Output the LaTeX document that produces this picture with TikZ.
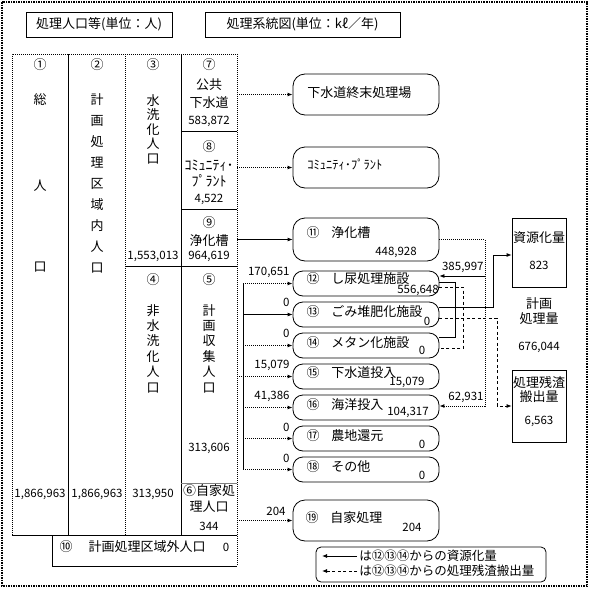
\documentclass[tikz,border=0pt]{standalone}
\usepackage{fontspec}
\setmainfont{Noto Sans CJK JP}
\usetikzlibrary{arrows.meta,calc}
\begin{document}
\begin{tikzpicture}[x=1pt,y=-1pt,line width=0.8pt,
  tx/.style={inner sep=0pt,font=\fontsize{13}{15}\selectfont},
  nm/.style={inner sep=0pt,font=\fontsize{11.5}{13}\selectfont},
  rbox/.style={draw,rounded corners=12pt,minimum width=146pt,minimum height=41pt,inner sep=0pt},
  sbox/.style={draw,rounded corners=10pt,minimum width=146pt,minimum height=25pt,inner sep=0pt},
  sqbox/.style={draw,minimum width=54pt,inner sep=0pt},
  arr/.style={-{Latex[length=5pt,width=4pt]}},
  dl/.style={densely dotted,line width=1pt},
  dsh/.style={dash pattern=on 3pt off 2.5pt}]
\useasboundingbox (0,0) rectangle (589,589);
% outer frame
\draw[densely dotted,line width=1.5pt] (2,2) rectangle (587,586);
% headers
\node[draw,minimum width=146pt,minimum height=25pt,inner sep=0pt,font=\fontsize{13}{15}\selectfont] (h1) at (99,24.5) {処理人口等(単位：人)};
\node[draw,minimum width=195pt,minimum height=25pt,inner sep=0pt,font=\fontsize{13}{15}\selectfont] (h2) at (302.5,24.5) {処理系統図(単位：kℓ／年)};
% table
\draw[dl] (12,535) -- (12,54) -- (237,54) -- (237,566);
\draw (68,54) -- (68,535);
\draw[dl] (125,54) -- (125,535);
\draw (181,54) -- (181,535);
\draw (181,131) -- (237,131);
\draw (181,209) -- (237,209);
\draw (125,266) -- (237,266);
\draw[gray] (181,483) -- (237,483);
\draw (12,535) -- (237,535);
\draw (52,535) -- (52,566) -- (237,566);
% column 1
\node[tx] (c1n) at (40,65) {①};
\node[tx] (c1a) at (40,100) {総};
\node[tx] (c1b) at (40,186) {人};
\node[tx] (c1c) at (40,267) {口};
\node[nm] (c1v) at (40,494) {1,866,963};
% column 2
\node[tx] (c2n) at (97,65) {②};
\node[tx,align=center,font=\fontsize{13}{20.9}\selectfont] (c2t) at (97,183.5) {計\\画\\処\\理\\区\\域\\内\\人\\口};
\node[nm] (c2v) at (97,494) {1,866,963};
% column 3
\node[tx] (c3n) at (153,65) {③};
\node[tx,align=center,font=\fontsize{13}{14.5}\selectfont] (c3t) at (153,129) {水\\洗\\化\\人\\口};
\node[nm] (c3v) at (153,256) {1,553,013};
\node[tx] (c4n) at (153,280) {④};
\node[tx,align=center,font=\fontsize{13}{15.4}\selectfont] (c4t) at (153,348.5) {非\\水\\洗\\化\\人\\口};
\node[nm] (c4v) at (153,494) {313,950};
% column 4
\node[tx] (c7n) at (209,65) {⑦};
\node[tx] (c7a) at (209,85) {公共};
\node[tx] (c7b) at (209,103) {下水道};
\node[nm] (c7v) at (209,121) {583,872};
\node[tx] (c8n) at (209,147) {⑧};
\node[tx,font=\fontsize{14}{15}\selectfont] (c8a) at (209,166) {ｺﾐｭﾆﾃｨ･};
\node[tx,font=\fontsize{14}{15}\selectfont] (c8b) at (209,181) {ﾌﾟﾗﾝﾄ};
\node[nm] (c8v) at (209,199) {4,522};
\node[tx] (c9n) at (209,223) {⑨};
\node[tx] (c9a) at (209,241) {浄化槽};
\node[nm] (c9v) at (209,256) {964,619};
\node[tx] (c5n) at (209,280) {⑤};
\node[tx,align=center,font=\fontsize{13}{15.4}\selectfont] (c5t) at (209,348.5) {計\\画\\収\\集\\人\\口};
\node[nm] (c5v) at (209,448) {313,606};
\node[tx] (c6a) at (209,491) {⑥自家処};
\node[tx] (c6b) at (209,507) {理人口};
\node[nm] (c6v) at (209,526) {344};
% row 10
\node[tx] (c10n) at (66,547) {⑩};
\node[tx] (c10t) at (147,547) {計画処理区域外人口};
\node[nm] (c10v) at (226,547) {0};
% destination boxes
\node[rbox] (b7) at (366,94.5) {};
\node[tx,anchor=west] (b7t) at (307,93) {下水道終末処理場};
\node[rbox] (b8) at (366,167.5) {};
\node[tx,anchor=west,font=\fontsize{12.5}{14}\selectfont] (b8t) at (307,165) {ｺﾐｭﾆﾃｨ･ﾌﾟﾗﾝﾄ};
\node[rbox,minimum height=43pt] (b11) at (366,239.5) {};
\node[tx] (b11n) at (313,233) {⑪};
\node[tx,anchor=west] (b11t) at (331,233) {浄化槽};
\node[nm] (b11v) at (396,252) {448,928};
\node[sbox] (b12) at (366,283.5) {};
\node[tx] (b12n) at (313,279) {⑫};
\node[tx,anchor=west] (b12t) at (331,279) {し尿処理施設};
\node[nm] (b12v) at (418,290.5) {556,648};
\node[sbox] (b13) at (366,314.5) {};
\node[tx] (b13n) at (313,312) {⑬};
\node[tx,anchor=west] (b13t) at (331,312) {ごみ堆肥化施設};
\node[nm] (b13v) at (427,321.5) {0};
\node[sbox] (b14) at (366,345.5) {};
\node[tx] (b14n) at (313,343) {⑭};
\node[tx,anchor=west] (b14t) at (331,343) {メタン化施設};
\node[nm] (b14v) at (422,350) {0};
\node[sbox] (b15) at (366,376.5) {};
\node[tx] (b15n) at (313,373) {⑮};
\node[tx,anchor=west] (b15t) at (331,373) {下水道投入};
\node[nm] (b15v) at (407,382) {15,079};
\node[sbox] (b16) at (366,407.5) {};
\node[tx] (b16n) at (313,405) {⑯};
\node[tx,anchor=west] (b16t) at (331,405) {海洋投入};
\node[nm] (b16v) at (408,412) {104,317};
\node[sbox] (b17) at (366,438.5) {};
\node[tx] (b17n) at (313,436) {⑰};
\node[tx,anchor=west] (b17t) at (331,436) {農地還元};
\node[nm] (b17v) at (422,444) {0};
\node[sbox] (b18) at (366,469.5) {};
\node[tx] (b18n) at (313,467) {⑱};
\node[tx,anchor=west] (b18t) at (331,467) {その他};
\node[nm] (b18v) at (422,475) {0};
\node[rbox] (b19) at (366,520.5) {};
\node[tx] (b19n) at (312,518) {⑲};
\node[tx,anchor=west] (b19t) at (330,518) {自家処理};
\node[nm] (b19v) at (412,527) {204};
% right boxes
\node[sqbox,minimum height=69pt] (rs) at (539,252.5) {};
\node[tx] (rst) at (539,238) {資源化量};
\node[nm] (rsv) at (539,265) {823};
\node[tx] (pa) at (539,304) {計画};
\node[tx] (pb) at (539,319) {処理量};
\node[nm] (pv) at (539,347) {676,044};
\node[sqbox,minimum height=72pt] (rd) at (539,406) {};
\node[tx] (rda) at (539,382) {処理残渣};
\node[tx] (rdb) at (539,397) {搬出量};
\node[nm] (rdv) at (539,421) {6,563};
% legend
\node[draw,rounded corners=5pt,minimum width=230pt,minimum height=35pt,inner sep=0pt] (lg) at (431,564.5) {};
\coordinate (la1) at (357,556);
\coordinate (la1e) at (322,556);
\coordinate (la2) at (357,571);
\coordinate (la2e) at (322,571);
\draw[arr] (la1) -- (la1e);
\draw[arr,dsh] (la2) -- (la2e);
\node[tx,anchor=west,font=\fontsize{12.5}{14}\selectfont] (lt1) at (359,556) {は⑫⑬⑭からの資源化量};
\node[tx,anchor=west,font=\fontsize{12.5}{14}\selectfont] (lt2) at (359,571) {は⑫⑬⑭からの処理残渣搬出量};
% connectors from table
\coordinate (t7) at (237,94.5);
\coordinate (t8) at (237,167.5);
\coordinate (t9) at (237,239.5);
\coordinate (t5) at (237,376.5);
\coordinate (t6) at (237,520.5);
\coordinate (bus1) at (243,283.5);
\coordinate (bus2) at (243,469.5);
\draw[arr,dl] (t7) -- (b7.west);
\draw[arr,dl] (t8) -- (b8.west);
\draw[arr] (t9) -- (b11.west);
\draw (bus1) -- (bus2);
\draw[arr,dl] (b12.west -| bus1) -- (b12.west);
\draw[arr] (b13.west -| bus1) -- (b13.west);
\draw[arr,dl] (b14.west -| bus1) -- (b14.west);
\draw[arr,dl] (t5) -- (b15.west);
\draw[arr,dl] (b16.west -| bus1) -- (b16.west);
\draw[arr,dl] (b17.west -| bus1) -- (b17.west);
\draw[arr,dl] (b18.west -| bus1) -- (b18.west);
\draw[arr,dl] (t6) -- (b19.west);
% flow labels
\node[nm,anchor=east] (f12) at (290,272) {170,651};
\node[nm,anchor=east] (f13) at (290,302) {0};
\node[nm,anchor=east] (f14) at (290,333) {0};
\node[nm,anchor=east] (f15) at (290,365) {15,079};
\node[nm,anchor=east] (f16) at (290,396) {41,386};
\node[nm,anchor=east] (f17) at (290,427) {0};
\node[nm,anchor=east] (f18) at (290,458) {0};
\node[nm,anchor=east] (f19) at (286,511) {204};
% septic sludge
\coordinate (r11) at (485,239.5);
\coordinate (r12) at (485,276);
\coordinate (r16) at (485,406);
\draw[dl] (b11.east) -- (r11) -- (r16);
\draw[arr] (r12) -- (r12 -| b12.east);
\draw[arr,dl] (r16) -- (r16 -| b16.east);
\node[nm,anchor=south east] (f385) at (484,273) {385,997};
\node[nm,anchor=south east] (f629) at (484,403) {62,931};
% resources (solid)
\draw ([yshift=1.5pt]b12.east) -- ++(16,0) |- ([yshift=8.5pt]b14.east);
\draw[arr] ([yshift=7.5pt]b13.east) -- (493,307) |- ([yshift=-2.5pt]rs.west);
% residue (dashed)
\draw[dsh] ([yshift=-3.5pt]b12.east) -- ++(24,0) |- ([yshift=-2.5pt]b14.east);
\draw[arr,dsh] ([yshift=-3.5pt]b13.east) -- (497,318) |- (rd.west);
\end{tikzpicture}
\end{document}
